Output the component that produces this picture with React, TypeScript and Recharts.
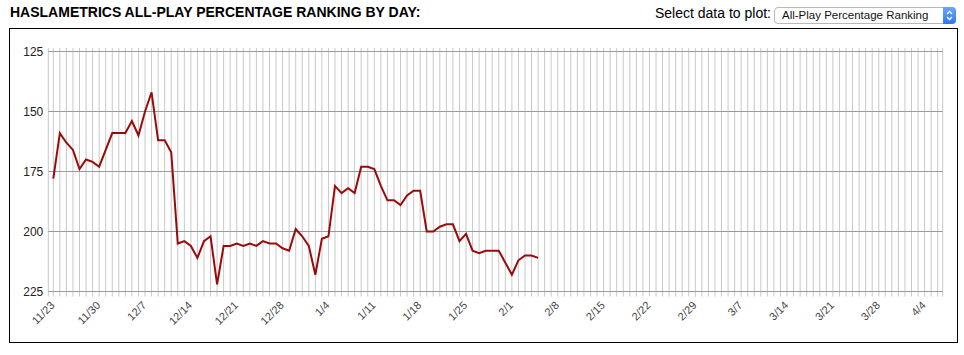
import React from "react";
import { LineChart, Line, XAxis, YAxis, CartesianGrid } from "recharts";

const dates: string[] = [
  "11/23","11/24","11/25","11/26","11/27","11/28","11/29","11/30",
  "12/1","12/2","12/3","12/4","12/5","12/6","12/7","12/8","12/9","12/10","12/11","12/12","12/13","12/14","12/15","12/16","12/17","12/18","12/19","12/20","12/21","12/22","12/23","12/24","12/25","12/26","12/27","12/28","12/29","12/30","12/31",
  "1/1","1/2","1/3","1/4","1/5","1/6","1/7","1/8","1/9","1/10","1/11","1/12","1/13","1/14","1/15","1/16","1/17","1/18","1/19","1/20","1/21","1/22","1/23","1/24","1/25","1/26","1/27","1/28","1/29","1/30","1/31",
  "2/1","2/2","2/3","2/4","2/5","2/6","2/7","2/8","2/9","2/10","2/11","2/12","2/13","2/14","2/15","2/16","2/17","2/18","2/19","2/20","2/21","2/22","2/23","2/24","2/25","2/26","2/27","2/28","2/29",
  "3/1","3/2","3/3","3/4","3/5","3/6","3/7","3/8","3/9","3/10","3/11","3/12","3/13","3/14","3/15","3/16","3/17","3/18","3/19","3/20","3/21","3/22","3/23","3/24","3/25","3/26","3/27","3/28","3/29","3/30","3/31",
  "4/1","4/2","4/3","4/4","4/5","4/6",
];

const rankings: number[] = [
  178, 159, 163, 166, 174, 170, 171, 173,
  166, 159, 159, 159, 154, 160, 150, 142, 162, 162, 167, 205, 204, 206, 211, 204, 202, 222, 206, 206, 205, 206, 205, 206, 204, 205, 205, 207, 208, 199, 202,
  206, 218, 203, 202, 181, 184, 182, 184, 173, 173, 174, 181, 187, 187, 189, 185, 183, 183, 200, 200, 198, 197, 197, 204, 201, 208, 209, 208, 208, 208, 213,
  218, 212, 210, 210, 211,
];

const tickLabels: string[] = ["11/23","11/30","12/7","12/14","12/21","12/28","1/4","1/11","1/18","1/25","2/1","2/8","2/15","2/22","2/29","3/7","3/14","3/21","3/28","4/4"];
const yTicks: number[] = [125, 150, 175, 200, 225];

const data = dates.map((d, i) => ({ date: d, rank: i < rankings.length ? rankings[i] : null }));

const FONT = "'Liberation Sans', Arial, Helvetica, sans-serif";

const XTick = (props: any) => {
  const { x, y, payload } = props;
  if (!tickLabels.includes(payload.value)) return <g />;
  const tx = x + 2;
  const ty = y + 9.5;
  return (
    <text x={tx} y={ty} transform={`rotate(-45 ${tx} ${ty})`} textAnchor="end" fontSize={11} fill="#444" fontFamily={FONT}>
      {payload.value}
    </text>
  );
};

export default function App() {
  return (
    <div style={{ position: "absolute", left: 0, top: 0, width: 964, height: 355, background: "#fff", fontFamily: FONT }}>
      <div style={{ position: "absolute", left: 10, top: 4, fontSize: 14, fontWeight: "bold", color: "#000", whiteSpace: "nowrap" }}>
        HASLAMETRICS ALL-PLAY PERCENTAGE RANKING BY DAY:
      </div>
      <div style={{ position: "absolute", left: 655, top: 5, fontSize: 14, color: "#000", whiteSpace: "nowrap" }}>
        Select data to plot:
      </div>
      <div style={{ position: "absolute", left: 774, top: 7, width: 180, height: 15, border: "1px solid #b8b8b8", borderRadius: 4, background: "#fff", boxSizing: "content-box" }}>
        <div style={{ position: "absolute", left: 7, top: 1, fontSize: 11.5, color: "#111", whiteSpace: "nowrap" }}>All-Play Percentage Ranking</div>
        <div style={{ position: "absolute", right: -1, top: -1, width: 13, height: 17, background: "linear-gradient(#6aa8fb, #2a78f0)", borderRadius: "0 4px 4px 0" }}>
          <svg width={13} height={17} style={{ position: "absolute", left: 0, top: 0 }}>
            <polyline points="4,7 6.5,4.5 9,7" fill="none" stroke="#fff" strokeWidth={1.3} />
            <polyline points="4,10 6.5,12.5 9,10" fill="none" stroke="#fff" strokeWidth={1.3} />
          </svg>
        </div>
      </div>
      <div style={{ position: "absolute", left: 9, top: 28, width: 947, height: 313, border: "1px solid #000" }} />
      <div style={{ position: "absolute", left: 0, top: 0 }}>
        <LineChart width={964} height={355} data={data} margin={{ top: 51.5, right: 21.3, bottom: 13.5, left: 0 }}>
          <CartesianGrid horizontal={false} vertical={true} stroke="#c8c8c8" y={48} height={248.5} />
          <CartesianGrid horizontal={true} vertical={false} stroke="#9a9a9a" />
          <XAxis
            dataKey="date"
            interval={0}
            tick={<XTick />}
            tickLine={false}
            axisLine={false}
            tickSize={5}
            tickMargin={0}
            height={50}
            padding={{ left: 5, right: 5 }}
          />
          <YAxis
            type="number"
            domain={[125, 225]}
            reversed
            ticks={yTicks}
            tickLine={false}
            axisLine={false}
            tickSize={5}
            tickMargin={0}
            width={48.3}
            tick={{ fontSize: 12, fill: "#222", fontFamily: FONT }}
          />
          <Line type="linear" dataKey="rank" stroke="#9b0a0a" strokeWidth={2} dot={false} isAnimationActive={false} connectNulls={false} />
        </LineChart>
      </div>
    </div>
  );
}
